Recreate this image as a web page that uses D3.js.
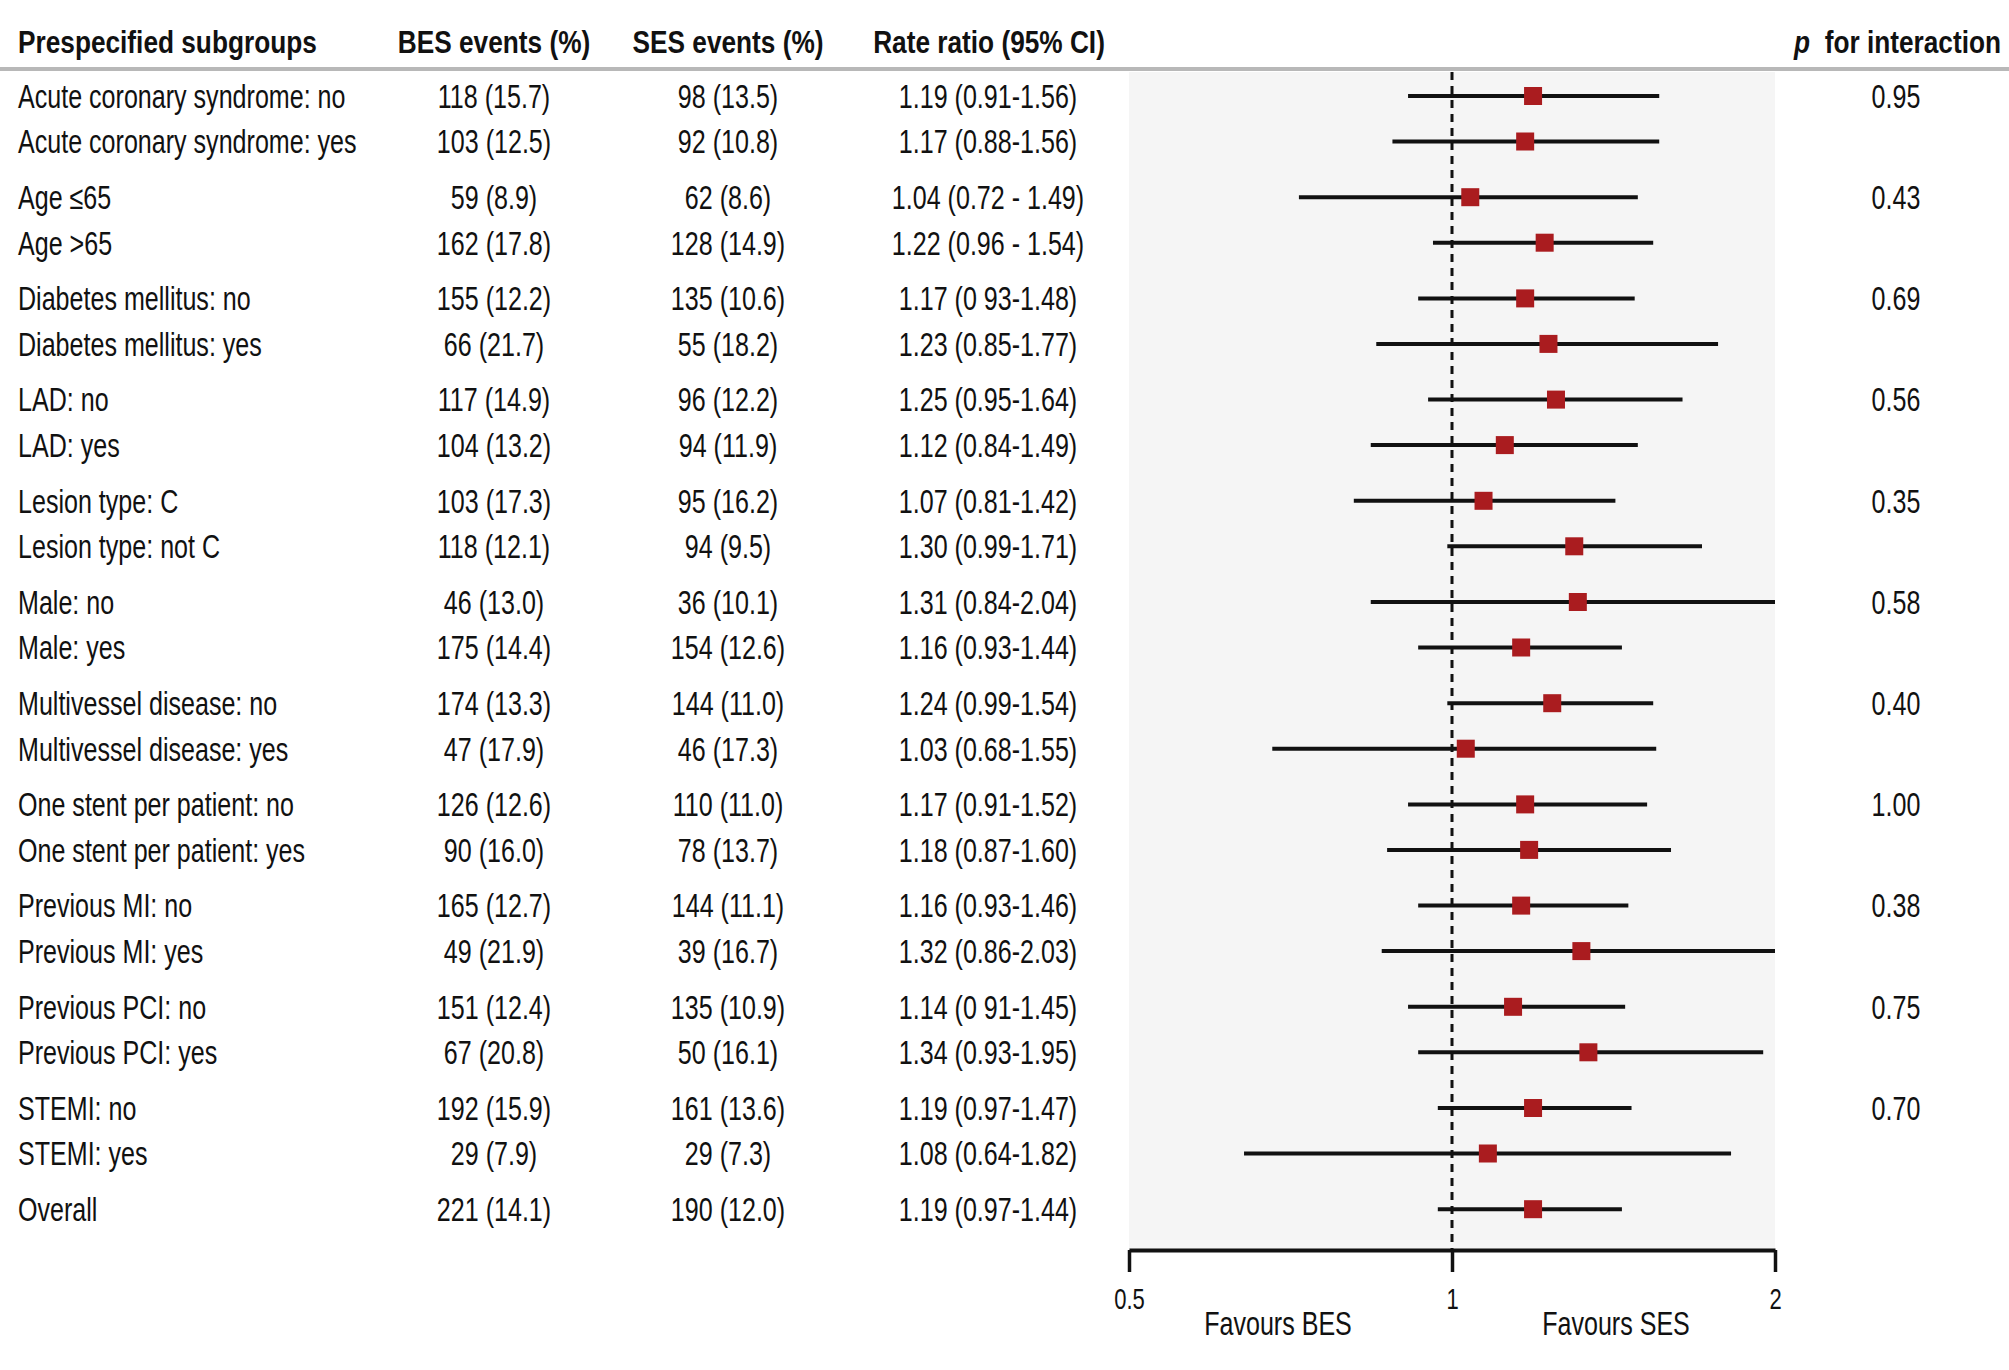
<!DOCTYPE html>
<html lang="en">
<head>
<meta charset="utf-8">
<title>Prespecified subgroups forest plot</title>
<script src="https://cdn.jsdelivr.net/npm/d3@7"></script>
<style>
  body { margin: 0; background: #fff; }
  svg text { font-family: "Liberation Sans", Arial, sans-serif; fill: #111; }
  .head { font-weight: bold; font-size: 32px; }
  .cell { font-size: 33px; }
</style>
</head>
<body>
<div id="vizContainer"></div>
<script>
// -------- data --------
var subgroups = [
  "Acute coronary syndrome: no", "Acute coronary syndrome: yes",
  "Age \u226465", "Age >65",
  "Diabetes mellitus: no", "Diabetes mellitus: yes",
  "LAD: no", "LAD: yes",
  "Lesion type: C", "Lesion type: not C",
  "Male: no", "Male: yes",
  "Multivessel disease: no", "Multivessel disease: yes",
  "One stent per patient: no", "One stent per patient: yes",
  "Previous MI: no", "Previous MI: yes",
  "Previous PCI: no", "Previous PCI: yes",
  "STEMI: no", "STEMI: yes",
  "Overall"
];
// which block each row belongs to, and its place inside the block
var groupIndex = [0,0,1,1,2,2,3,3,4,4,5,5,6,6,7,7,8,8,9,9,10,10,11];
var subIndex   = [0,1,0,1,0,1,0,1,0,1,0,1,0,1,0,1,0,1,0,1,0,1,0];

var besEvents = ["118 (15.7)","103 (12.5)","59 (8.9)","162 (17.8)","155 (12.2)","66 (21.7)",
  "117 (14.9)","104 (13.2)","103 (17.3)","118 (12.1)","46 (13.0)","175 (14.4)",
  "174 (13.3)","47 (17.9)","126 (12.6)","90 (16.0)","165 (12.7)","49 (21.9)",
  "151 (12.4)","67 (20.8)","192 (15.9)","29 (7.9)","221 (14.1)"];
var sesEvents = ["98 (13.5)","92 (10.8)","62 (8.6)","128 (14.9)","135 (10.6)","55 (18.2)",
  "96 (12.2)","94 (11.9)","95 (16.2)","94 (9.5)","36 (10.1)","154 (12.6)",
  "144 (11.0)","46 (17.3)","110 (11.0)","78 (13.7)","144 (11.1)","39 (16.7)",
  "135 (10.9)","50 (16.1)","161 (13.6)","29 (7.3)","190 (12.0)"];
var rrLabels = ["1.19 (0.91-1.56)","1.17 (0.88-1.56)","1.04 (0.72 - 1.49)","1.22 (0.96 - 1.54)",
  "1.17 (0 93-1.48)","1.23 (0.85-1.77)","1.25 (0.95-1.64)","1.12 (0.84-1.49)",
  "1.07 (0.81-1.42)","1.30 (0.99-1.71)","1.31 (0.84-2.04)","1.16 (0.93-1.44)",
  "1.24 (0.99-1.54)","1.03 (0.68-1.55)","1.17 (0.91-1.52)","1.18 (0.87-1.60)",
  "1.16 (0.93-1.46)","1.32 (0.86-2.03)","1.14 (0 91-1.45)","1.34 (0.93-1.95)",
  "1.19 (0.97-1.47)","1.08 (0.64-1.82)","1.19 (0.97-1.44)"];

var rateRatio = [1.19,1.17,1.04,1.22,1.17,1.23,1.25,1.12,1.07,1.30,1.31,1.16,
  1.24,1.03,1.17,1.18,1.16,1.32,1.14,1.34,1.19,1.08,1.19];
var ciLow  = [0.91,0.88,0.72,0.96,0.93,0.85,0.95,0.84,0.81,0.99,0.84,0.93,
  0.99,0.68,0.91,0.87,0.93,0.86,0.91,0.93,0.97,0.64,0.97];
var ciHigh = [1.56,1.56,1.49,1.54,1.48,1.77,1.64,1.49,1.42,1.71,2.04,1.44,
  1.54,1.55,1.52,1.60,1.46,2.03,1.45,1.95,1.47,1.82,1.44];

// one p value per block (not for Overall)
var pInteraction = ["0.95","0.43","0.69","0.56","0.35","0.58","0.40","1.00","0.38","0.75","0.70"];

var xTicks = [0.5, 1, 2];
var xTickLabels = ["0.5", "1", "2"];

// -------- canvas --------
var width = 2009;
var height = 1370;
var svgCanvas = d3.select("#vizContainer").append("svg")
  .attr("width", width)
  .attr("height", height);

var plotTop = 72;
var axisY = 1250;
var innerGap = 45.5;
var squeeze = 0.76;     // the original typeface is a condensed one
var headSqueeze = 0.82;

var xScale = d3.scaleLog()
  .domain([0.5, 2])
  .range([1129, 1775]);

var groupY = d3.scaleLinear()
  .domain([0, 11])
  .range([96, 96 + 11 * 101.2]);

function rowY(i) {
  return groupY(groupIndex[i]) + subIndex[i] * innerGap;
}

var rows = subgroups.map(function(d, i) { return i; });

// condensed text helper
function addText(x, y, str, cls, anchor, sx) {
  return svgCanvas.append("text")
    .attr("class", cls)
    .attr("transform", "translate(" + x + "," + y + ") scale(" + (sx || squeeze) + ",1)")
    .attr("text-anchor", anchor || "start")
    .text(str);
}

// shaded plot panel
svgCanvas.append("rect")
  .attr("x", xScale(0.5))
  .attr("y", plotTop)
  .attr("width", xScale(2) - xScale(0.5))
  .attr("height", axisY - plotTop)
  .attr("fill", "#f5f5f5");

// header rule
svgCanvas.append("line")
  .attr("x1", 0).attr("x2", width)
  .attr("y1", 69).attr("y2", 69)
  .attr("stroke", "#b8b8b8")
  .attr("stroke-width", 4);

// headers
var headY = 53;
addText(18, headY, "Prespecified subgroups", "head", "start", headSqueeze);
addText(494, headY, "BES events (%)", "head", "middle", headSqueeze);
addText(728, headY, "SES events (%)", "head", "middle", headSqueeze);
addText(989, headY, "Rate ratio (95% CI)", "head", "middle", headSqueeze);
var pHead = addText(2001, headY, null, "head", "end", headSqueeze);
pHead.append("tspan").attr("font-style", "italic").text("p");
pHead.append("tspan").text("\u00a0 for interaction");

// table columns
function column(values, x, anchor) {
  svgCanvas.selectAll(null)
    .data(rows)
    .enter()
    .append("text")
    .attr("class", "cell")
    .attr("transform", function(i) {
      return "translate(" + x + "," + rowY(i) + ") scale(" + squeeze + ",1)";
    })
    .attr("dy", "0.36em")
    .attr("text-anchor", anchor)
    .text(function(i) { return values[i]; });
}
column(subgroups, 18, "start");
column(besEvents, 494, "middle");
column(sesEvents, 728, "middle");
column(rrLabels, 988, "middle");

svgCanvas.selectAll(null)
  .data(pInteraction)
  .enter()
  .append("text")
  .attr("class", "cell")
  .attr("transform", function(d, g) {
    return "translate(1896," + groupY(g) + ") scale(" + squeeze + ",1)";
  })
  .attr("dy", "0.36em")
  .attr("text-anchor", "middle")
  .text(function(d) { return d; });

// reference line at 1
svgCanvas.append("line")
  .attr("x1", xScale(1)).attr("x2", xScale(1))
  .attr("y1", plotTop).attr("y2", axisY)
  .attr("stroke", "#111")
  .attr("stroke-width", 3)
  .attr("stroke-dasharray", "8,6");

// confidence intervals (clamped to the panel)
function clampX(v) { return xScale(Math.max(0.5, Math.min(2, v))); }
svgCanvas.selectAll(".ci")
  .data(rows)
  .enter()
  .append("line")
  .attr("class", "ci")
  .attr("x1", function(i) { return clampX(ciLow[i]); })
  .attr("x2", function(i) { return clampX(ciHigh[i]); })
  .attr("y1", function(i) { return rowY(i); })
  .attr("y2", function(i) { return rowY(i); })
  .attr("stroke", "#111")
  .attr("stroke-width", 4);

// point estimates
var box = 18;
svgCanvas.selectAll(".est")
  .data(rows)
  .enter()
  .append("rect")
  .attr("class", "est")
  .attr("x", function(i) { return xScale(rateRatio[i]) - box / 2; })
  .attr("y", function(i) { return rowY(i) - box / 2; })
  .attr("width", box)
  .attr("height", box)
  .attr("fill", "#aa1c1f");

// x axis
var xAxis = d3.axisBottom(xScale)
  .tickValues(xTicks)
  .tickFormat(function(d, i) { return xTickLabels[i]; })
  .tickSize(22)
  .tickSizeOuter(0)
  .tickPadding(16);

var axisG = svgCanvas.append("g")
  .attr("transform", "translate(0," + axisY + ")")
  .call(xAxis);
axisG.attr("font-family", null).attr("font-size", 29);
axisG.select(".domain").attr("stroke", "#111").attr("stroke-width", 4);
axisG.selectAll(".tick line").attr("stroke", "#111").attr("stroke-width", 3.5);
axisG.selectAll(".tick text")
  .attr("fill", "#111")
  .attr("font-size", 29)
  .attr("transform", "scale(" + squeeze + ",1)");

addText(1278, 1335, "Favours BES", "cell", "middle");
addText(1616, 1335, "Favours SES", "cell", "middle");
</script>
</body>
</html>
